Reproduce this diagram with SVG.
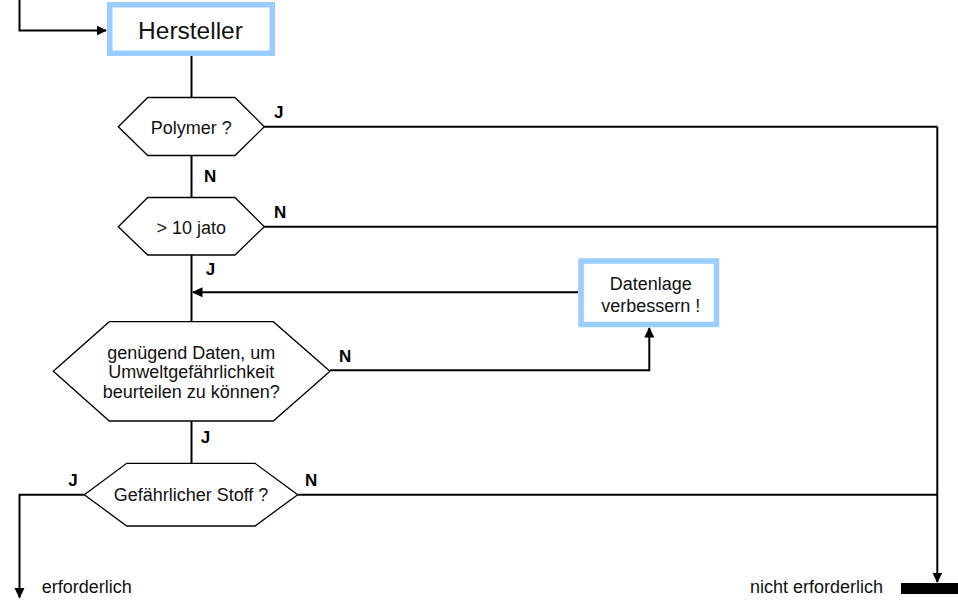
<svg xmlns="http://www.w3.org/2000/svg" width="958" height="603" viewBox="0 0 958 603">
  <defs>
    <marker id="arrow" markerUnits="userSpaceOnUse" markerWidth="11" markerHeight="11" refX="9.5" refY="5" orient="auto">
      <path d="M0,0 L10.5,5 L0,10 z" fill="#000"/>
    </marker>
    <style>
      .box { fill: #fff; stroke: #99ccff; stroke-width: 5.5; }
      .hex { fill: #fff; stroke: #000; stroke-width: 1.3; }
      .txt { font-family: "Liberation Sans", Arial, sans-serif; font-size: 18px; fill: #111; text-anchor: middle; }
      .big { font-size: 24.5px; }
      .lbl { font-family: "Liberation Sans", Arial, sans-serif; font-size: 17px; font-weight: bold; fill: #000; }
      .out { font-family: "Liberation Sans", Arial, sans-serif; font-size: 18px; fill: #111; }
      .wire { fill: none; stroke: #000; stroke-width: 2; }
      .arr { marker-end: url(#arrow); }
    </style>
  </defs>

  <!-- connectors -->
  <g id="connectors">
    <path class="wire arr" d="M19.5 0 V30.5 H106"/>
    <path class="wire" d="M191.5 56 V97.5"/>
    <path class="wire" d="M191.5 155.5 V197.5"/>
    <path class="wire" d="M191.5 255 V321.7"/>
    <path class="wire" d="M191.5 421 V463.3"/>
    <path class="wire" d="M264.3 126.7 H937.3"/>
    <path class="wire arr" d="M937.3 126.7 V582"/>
    <path class="wire" d="M264.3 226.7 H937.3"/>
    <path class="wire" d="M297.7 494.7 H937.3"/>
    <path class="wire arr" d="M84.3 494.7 H19.5 V597.5"/>
    <path class="wire arr" d="M578 292.3 H193"/>
    <path class="wire arr" d="M330 370.2 H649.3 V328"/>

    <g id="labels">
      <text class="lbl" x="274" y="118">J</text>
      <text class="lbl" x="204" y="181.7">N</text>
      <text class="lbl" x="274" y="218">N</text>
      <text class="lbl" x="205.7" y="275">J</text>
      <text class="lbl" x="339" y="362.3">N</text>
      <text class="lbl" x="200.7" y="443.3">J</text>
      <text class="lbl" x="68.3" y="485.7">J</text>
      <text class="lbl" x="305" y="485.7">N</text>
    </g>
  </g>

  <!-- nodes -->
  <g id="hersteller">
    <rect class="box" x="109.75" y="4.75" width="162.5" height="48.5"/>
    <text class="txt big" x="190.5" y="39">Hersteller</text>
  </g>

  <g id="polymer">
    <polygon class="hex" points="118.3,126.7 147.7,97.5 235,97.5 264.3,126.7 235,155.5 147.7,155.5"/>
    <text class="txt" x="191.3" y="134.3">Polymer ?</text>
  </g>

  <g id="jato">
    <polygon class="hex" points="118.3,226.7 147.7,197.5 235,197.5 264.3,226.7 235,255 147.7,255"/>
    <text class="txt" x="191.3" y="234.3">&gt; 10 jato</text>
  </g>

  <g id="daten">
    <polygon class="hex" points="53.3,371.2 109.3,321.7 273.3,321.7 330,371.2 273.3,421 109.3,421"/>
    <text class="txt" x="191.3" y="358.5">genügend Daten, um</text>
    <text class="txt" x="191.3" y="378">Umweltgefährlichkeit</text>
    <text class="txt" x="191.3" y="397.5">beurteilen zu können?</text>
  </g>

  <g id="datenlage">
    <rect class="box" x="581" y="261" width="135.5" height="63.5"/>
    <text class="txt" x="650.8" y="289.5">Datenlage</text>
    <text class="txt" x="650.8" y="312">verbessern !</text>
  </g>

  <g id="gefaehrlich">
    <polygon class="hex" points="84.3,494.7 126.7,463.3 255,463.3 297.7,494.7 255,526 126.7,526"/>
    <text class="txt" x="191" y="501">Gefährlicher Stoff ?</text>
  </g>

  <g id="erforderlich">
    <text class="out" x="41.7" y="592.7">erforderlich</text>
  </g>

  <g id="nicht-erforderlich">
    <text class="out" x="750" y="593.3">nicht erforderlich</text>
    <rect x="901" y="583" width="57" height="11" fill="#000"/>
  </g>
</svg>
